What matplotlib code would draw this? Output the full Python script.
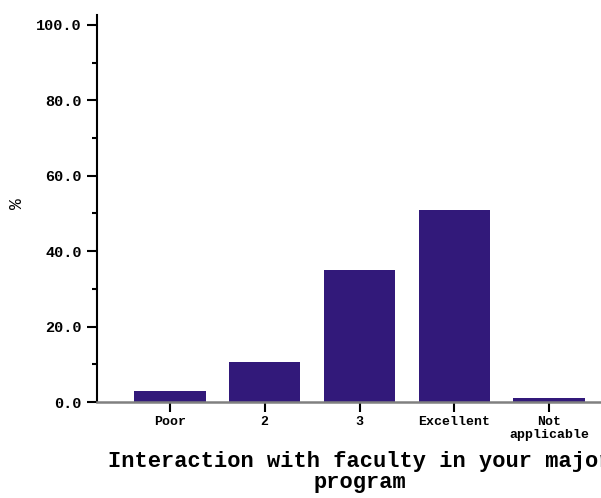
import matplotlib.pyplot as plt
import numpy as np
from matplotlib.ticker import MultipleLocator, FormatStrFormatter

categories = ['Poor', '2', '3', 'Excellent', 'Not\napplicable']
values = [2.9, 10.6, 35.0, 50.9, 1.1]

plt.rcParams['font.family'] = ['Liberation Mono', 'DejaVu Sans']
plt.rcParams['font.weight'] = 'bold'

fig = plt.figure(figsize=(6.01, 4.98), dpi=100)
ax = fig.add_axes([97 / 601, 1 - 402 / 498, 525 / 601, 387 / 498])

x = np.arange(len(categories))
ax.bar(x, values, width=0.75, color='#32197a', zorder=2)

ax.set_xlim(-0.77, 4.77)
ax.set_ylim(0, 102.6)

# y axis: major every 20, minor every 10
ax.yaxis.set_major_locator(MultipleLocator(20))
ax.yaxis.set_minor_locator(MultipleLocator(10))
ax.yaxis.set_major_formatter(FormatStrFormatter('%.1f'))
ax.tick_params(axis='y', which='major', length=7, width=1.5, labelsize=11, pad=4)
ax.tick_params(axis='y', which='minor', length=3.5, width=1.5)

ax.set_xticks(x)
ax.set_xticklabels(categories, fontsize=9.5, linespacing=1.15)
ax.tick_params(axis='x', length=7, width=1.5, pad=3)

for s in ['top', 'right']:
    ax.spines[s].set_visible(False)
ax.spines['left'].set_linewidth(1.5)
ax.spines['bottom'].set_color('#808080')
ax.spines['bottom'].set_linewidth(1.8)

ax.set_ylabel('%', fontsize=13)
ax.yaxis.set_label_coords(-0.135, 0.513)
ax.set_xlabel('Interaction with faculty in your major\nprogram', fontsize=15.8,
              fontweight='bold', linespacing=1.0, labelpad=7)

fig.savefig('out.png', dpi=100)
